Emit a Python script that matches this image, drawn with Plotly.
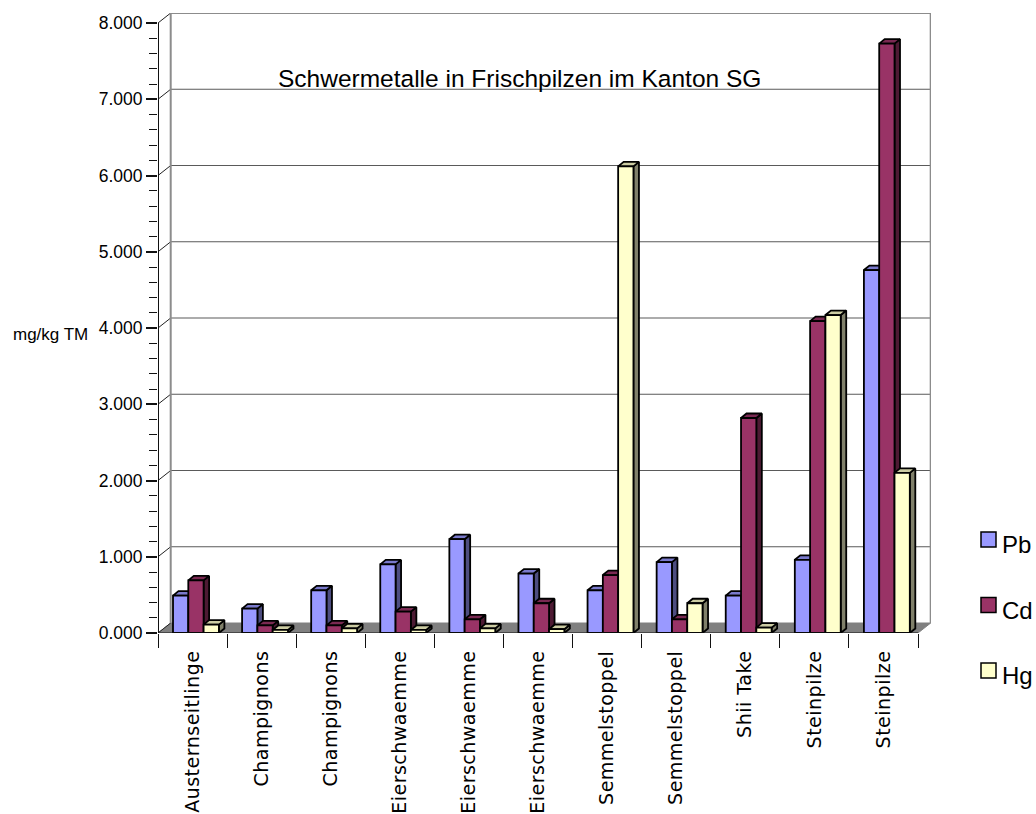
import plotly.graph_objects as go

# ---- data -------------------------------------------------------------
categories = [
    "Austernseitlinge", "Champignons", "Champignons", "Eierschwaemme",
    "Eierschwaemme", "Eierschwaemme", "Semmelstoppel", "Semmelstoppel",
    "Shii Take", "Steinpilze", "Steinpilze",
]
series_names = ["Pb", "Cd", "Hg"]
pb_values = [0.49, 0.32, 0.56, 0.90, 1.23, 0.78, 0.56, 0.93, 0.49, 0.96, 4.76]
cd_values = [0.69, 0.10, 0.10, 0.28, 0.18, 0.39, 0.76, 0.18, 2.82, 4.09, 7.73]
hg_values = [0.11, 0.04, 0.06, 0.04, 0.06, 0.05, 6.12, 0.39, 0.07, 4.17, 2.10]
y_major_ticks = [0, 1, 2, 3, 4, 5, 6, 7, 8]

title_text = "Schwermetalle in Frischpilzen im Kanton SG"
y_title = "mg/kg TM"

# ---- styling ----------------------------------------------------------
front_colors = ["#9999FF", "#993366", "#FFFFCC"]
top_colors = ["#7A7ACC", "#7A2952", "#CCCCA3"]
side_colors = ["#4D4D80", "#4D1A33", "#80806A"]
edge = "#000000"
wall_edge = "#8C8C8C"
grid_col = "#5A5A5A"
floor_col = "#808080"

W, H = 1036, 814
PL, PR, PT, PB = 158, 931, 13, 633          # plot box in pixels
n = len(categories)
cat_px = (918 - PL) / n                      # pixels per category
unit_px = (PB - 23) / 8                      # pixels per value unit
x_lo = -0.5
x_hi = x_lo + (PR - PL) / cat_px
y_hi = (PB - PT) / unit_px

wall_dx, wall_dy = 12.7 / cat_px, 10 / unit_px   # depth of the chart box
bar_dx, bar_dy = 5.5 / cat_px, 4.5 / unit_px     # depth of each bar
bar_w = 15.3 / cat_px
group_start = 15 / cat_px


def paper_x(px):
    return (px - PL) / (PR - PL)


def paper_y(py):
    return (PB - py) / (PB - PT)


fig = go.Figure()

# ---- pseudo-3D bars: side, top and front faces -------------------------
all_values = [pb_values, cd_values, hg_values]
for k, (name, vals) in enumerate(zip(series_names, all_values)):
    sx, sy, tx, ty, fx, fy = [], [], [], [], [], []
    for i, v in enumerate(vals):
        x0 = i - 0.5 + group_start + k * bar_w
        x1 = x0 + bar_w
        sx += [x1, x1 + bar_dx, x1 + bar_dx, x1, x1, None]
        sy += [0, bar_dy, v + bar_dy, v, 0, None]
        tx += [x0, x1, x1 + bar_dx, x0 + bar_dx, x0, None]
        ty += [v, v, v + bar_dy, v + bar_dy, v, None]
        fx += [x0, x1, x1, x0, x0, None]
        fy += [0, 0, v, v, 0, None]
    for xs, ys, col in ((sx, sy, side_colors[k]), (tx, ty, top_colors[k]),
                        (fx, fy, front_colors[k])):
        fig.add_trace(go.Scatter(
            x=xs, y=ys, mode="lines", fill="toself", fillcolor=col,
            line=dict(color=edge, width=1.8), name=name,
            hoverinfo="skip", showlegend=False,
        ))

# ---- chart box: floor, back wall, gridlines ----------------------------
shapes = []
shapes.append(dict(
    type="path", xref="x", yref="y", layer="below",
    path=(f"M {x_lo} 0 L {n - 0.5} 0 L {n - 0.5 + wall_dx} {wall_dy} "
          f"L {x_lo + wall_dx} {wall_dy} Z"),
    fillcolor=floor_col, line=dict(color=floor_col, width=1),
))
for v in y_major_ticks:
    if v > 0:
        shapes.append(dict(
            type="line", xref="x", yref="y", layer="below",
            x0=x_lo + wall_dx, x1=n - 0.5 + wall_dx,
            y0=v + wall_dy, y1=v + wall_dy,
            line=dict(color=grid_col if v < 8 else wall_edge,
                      width=1.2 if v < 8 else 2),
        ))
    shapes.append(dict(
        type="line", xref="x", yref="y", layer="below",
        x0=x_lo, x1=x_lo + wall_dx, y0=v, y1=v + wall_dy,
        line=dict(color="#222222", width=1),
    ))
for xe in (x_lo + wall_dx, n - 0.5 + wall_dx):
    shapes.append(dict(
        type="line", xref="x", yref="y", layer="below",
        x0=xe, x1=xe, y0=wall_dy, y1=8 + wall_dy,
        line=dict(color=wall_edge, width=2),
    ))
# front axis lines
shapes.append(dict(type="line", xref="x", yref="y", x0=x_lo, x1=x_lo,
                   y0=0, y1=8, line=dict(color="#111111", width=2)))
shapes.append(dict(type="line", xref="x", yref="y", x0=x_lo, x1=n - 0.5,
                   y0=0, y1=0, line=dict(color="#111111", width=1)))

# ---- legend -------------------------------------------------------------
annotations = []
legend_rows = [539.5, 605, 670.5]
for k, name in enumerate(series_names):
    cy = legend_rows[k]
    shapes.append(dict(
        type="rect", xref="paper", yref="paper",
        x0=paper_x(981), x1=paper_x(996),
        y0=paper_y(cy + 7.5), y1=paper_y(cy - 7.5),
        fillcolor=front_colors[k], line=dict(color=edge, width=1.5),
    ))
    annotations.append(dict(
        xref="paper", yref="paper", x=paper_x(1000), y=paper_y(cy + 5),
        xanchor="left", yanchor="middle", showarrow=False, text=name,
        font=dict(family="Liberation Sans, Arial", size=24, color="#000"),
    ))

annotations.append(dict(
    xref="paper", yref="paper", x=paper_x(519.5), y=paper_y(78),
    xanchor="center", yanchor="middle", showarrow=False, text=title_text,
    font=dict(family="Liberation Sans, Arial", size=24.5, color="#000"),
))
annotations.append(dict(
    xref="paper", yref="paper", x=paper_x(51), y=paper_y(334),
    xanchor="center", yanchor="middle", showarrow=False, text=y_title,
    font=dict(family="Liberation Sans, Arial", size=17, color="#000"),
))

tick_text = [f'<span style="letter-spacing:0.5px">{c}</span>' for c in categories]

fig.update_layout(
    width=W, height=H,
    margin=dict(l=PL, r=W - PR, t=PT, b=H - PB, pad=0, autoexpand=False),
    paper_bgcolor="white", plot_bgcolor="white",
    showlegend=False,
    shapes=shapes, annotations=annotations,
    xaxis=dict(
        range=[x_lo, x_hi], showgrid=False, zeroline=False, showline=False,
        automargin=False,
        tickmode="array", tickvals=list(range(n)), ticktext=tick_text,
        tickangle=-90, ticks="outside", ticklen=9,
        tickcolor="rgba(0,0,0,0)",
        tickfont=dict(family="DejaVu Sans, Verdana", size=19, color="#000"),
        minor=dict(tickmode="linear", tick0=-0.5, dtick=1, ticks="outside",
                   ticklen=14, tickwidth=1, tickcolor="#111111",
                   showgrid=False),
        fixedrange=True,
    ),
    yaxis=dict(
        range=[0, y_hi], showgrid=False, zeroline=False, showline=False,
        automargin=False,
        tickmode="array", tickvals=y_major_ticks,
        ticktext=[f"{v:.3f}" for v in y_major_ticks],
        ticks="outside", ticklen=11, tickwidth=1.5, tickcolor="#111111",
        tickfont=dict(family="Liberation Sans, Arial", size=17.5, color="#000"),
        minor=dict(tickmode="linear", tick0=0, dtick=0.2, ticks="outside",
                   ticklen=8, tickwidth=1.2, tickcolor="#111111",
                   showgrid=False),
        fixedrange=True,
    ),
)

fig.write_html("out.html")
